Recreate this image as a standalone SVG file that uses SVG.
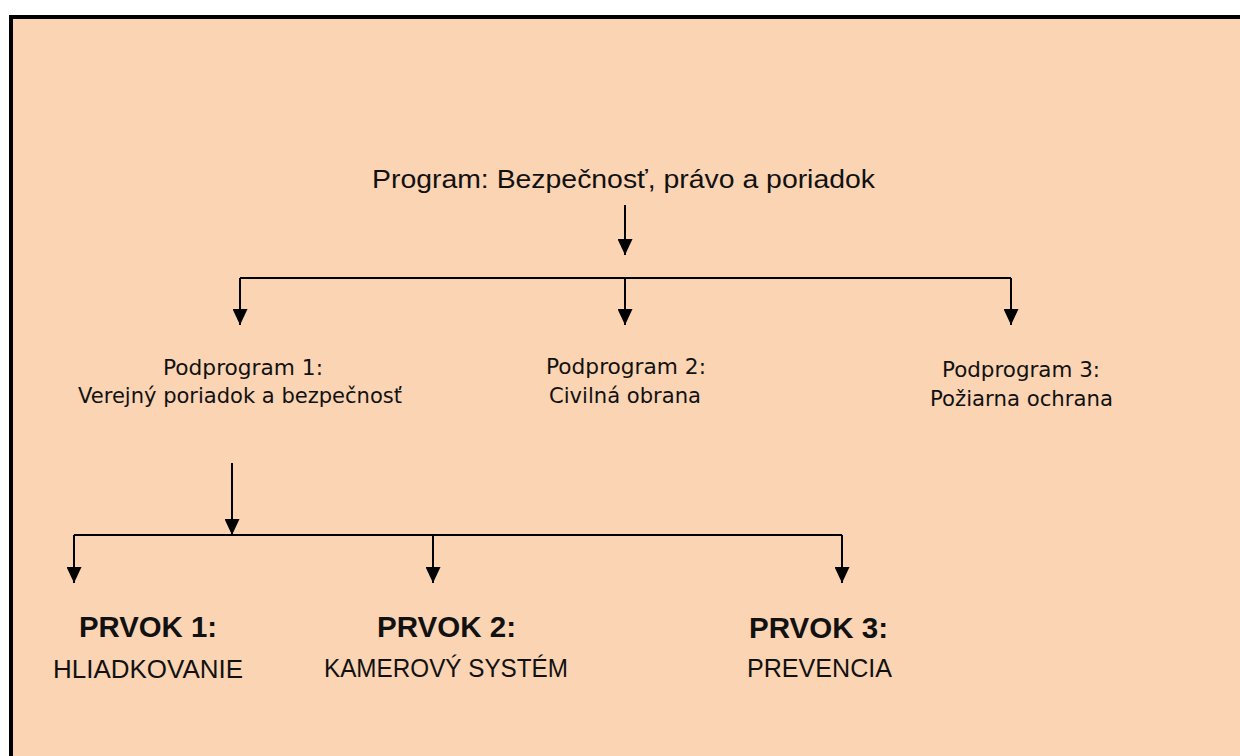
<svg xmlns="http://www.w3.org/2000/svg" width="1240" height="756" viewBox="0 0 1240 756">
  <defs>
    <marker id="arr" viewBox="0 0 16 15" refX="16" refY="7.5" markerWidth="16" markerHeight="15" markerUnits="userSpaceOnUse" orient="auto">
      <path d="M0,0 L16,7.5 L0,15 z" fill="#000"/>
    </marker>
    <style>
      .ln { stroke:#000; stroke-width:2; fill:none; }
      .hl { stroke:#000; stroke-width:1.8; fill:none; }
      .title { font-family:"Liberation Sans", Arial, sans-serif; font-size:25px; fill:#111; text-anchor:middle; }
      .sub { font-family:"DejaVu Sans", Verdana, sans-serif; font-size:21px; fill:#111; text-anchor:middle; }
      .pb { font-family:"Liberation Sans", Arial, sans-serif; font-size:29px; font-weight:bold; fill:#111; text-anchor:middle; }
      .pr { font-family:"Liberation Sans", Arial, sans-serif; font-size:26px; fill:#111; text-anchor:middle; }
    </style>
  </defs>
  <rect x="0" y="0" width="1240" height="756" fill="#fff"/>
  <rect x="9" y="15" width="1231" height="741" fill="#FBD4B4"/>
  <rect x="9" y="15" width="1231" height="4" fill="#000"/>
  <rect x="9" y="15" width="4" height="741" fill="#000"/>

  <g id="connectors">
    <line class="ln" x1="625" y1="205" x2="625" y2="255" marker-end="url(#arr)"/>
    <line class="hl" x1="240" y1="278" x2="1011" y2="278"/>
    <line class="ln" x1="240" y1="278" x2="240" y2="325" marker-end="url(#arr)"/>
    <line class="ln" x1="625" y1="278" x2="625" y2="325" marker-end="url(#arr)"/>
    <line class="ln" x1="1011" y1="278" x2="1011" y2="325" marker-end="url(#arr)"/>
    <line class="ln" x1="232" y1="463" x2="232" y2="535" marker-end="url(#arr)"/>
    <line class="hl" x1="74" y1="535" x2="842" y2="535"/>
    <line class="ln" x1="74" y1="535" x2="74" y2="583" marker-end="url(#arr)"/>
    <line class="ln" x1="433" y1="535" x2="433" y2="583" marker-end="url(#arr)"/>
    <line class="ln" x1="842" y1="535" x2="842" y2="583" marker-end="url(#arr)"/>
  </g>

  <g id="program">
    <text class="title" x="623.5" y="188" textLength="503" lengthAdjust="spacingAndGlyphs">Program: Bezpečnosť, právo a poriadok</text>
  </g>

  <g id="podprogram1">
    <text class="sub" x="243" y="375" textLength="160" lengthAdjust="spacingAndGlyphs">Podprogram 1:</text>
    <text class="sub" x="240" y="403" textLength="324" lengthAdjust="spacingAndGlyphs">Verejný poriadok a bezpečnosť</text>
  </g>
  <g id="podprogram2">
    <text class="sub" x="626" y="374" textLength="160" lengthAdjust="spacingAndGlyphs">Podprogram 2:</text>
    <text class="sub" x="625" y="403" textLength="152" lengthAdjust="spacingAndGlyphs">Civilná obrana</text>
  </g>
  <g id="podprogram3">
    <text class="sub" x="1021" y="377" textLength="158" lengthAdjust="spacingAndGlyphs">Podprogram 3:</text>
    <text class="sub" x="1021.5" y="406" textLength="183" lengthAdjust="spacingAndGlyphs">Požiarna ochrana</text>
  </g>

  <g id="prvok1">
    <text class="pb" x="148" y="637" textLength="138" lengthAdjust="spacingAndGlyphs">PRVOK 1:</text>
    <text class="pr" x="148" y="678" textLength="190" lengthAdjust="spacingAndGlyphs">HLIADKOVANIE</text>
  </g>
  <g id="prvok2">
    <text class="pb" x="446.5" y="637" textLength="139" lengthAdjust="spacingAndGlyphs">PRVOK 2:</text>
    <text class="pr" x="446" y="677" textLength="244" lengthAdjust="spacingAndGlyphs">KAMEROVÝ SYSTÉM</text>
  </g>
  <g id="prvok3">
    <text class="pb" x="818.5" y="638" textLength="139" lengthAdjust="spacingAndGlyphs">PRVOK 3:</text>
    <text class="pr" x="819.5" y="677" textLength="145" lengthAdjust="spacingAndGlyphs">PREVENCIA</text>
  </g>
</svg>
